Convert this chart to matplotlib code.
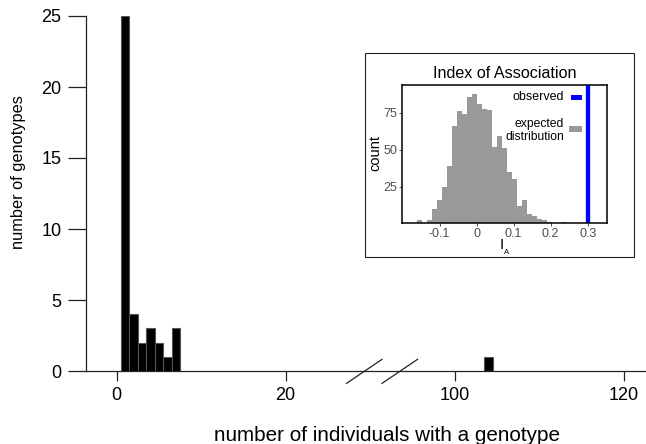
import matplotlib
matplotlib.use("Agg")
import matplotlib.pyplot as plt
from matplotlib.patches import Rectangle
from matplotlib.lines import Line2D

plt.rcParams['font.family'] = ['Liberation Sans', 'DejaVu Sans']

# ---------------- data ----------------
genotype_sizes = [1, 2, 3, 4, 5, 6, 7, 104]          # individuals per genotype
genotype_counts = [25, 4, 2, 3, 2, 1, 3, 1]           # number of genotypes
x_tick_values = [0, 20, 100, 120]
y_tick_values = [0, 5, 10, 15, 20, 25]

# broken axis: values at/above BREAK_AT are shifted left by GAP
BREAK_AT = 60
GAP = 60

# inset: null distribution of Index of Association (histogram)
ia_bin_width = 0.0135
ia_first_bin = -12                                    # index of first bin edge (x bin_width)
ia_counts = [2, 0, 2, 10, 16, 25, 39, 66, 76, 74, 86, 88, 81, 78, 77,
             52, 59, 51, 35, 30, 12, 16, 6, 5, 3, 2, 1, 0, 0, 1]
ia_observed = 0.30
ia_x_ticks = [-0.1, 0, 0.1, 0.2, 0.3]
ia_x_labels = ["-0.1", "0", "0.1", "0.2", "0.3"]
ia_y_ticks = [25, 50, 75]

# ---------------- figure ----------------
W, H = 646, 444
fig = plt.figure(figsize=(W / 100, H / 100), dpi=100)


def fx(px):
    return px / W


def fy(py):
    return 1 - py / H


# main axes
ax = fig.add_axes([fx(86), fy(371), fx(646 - 86), (371 - 16) / H])
ax.set_facecolor('none')
ax.set_zorder(0)
disp = lambda v: v if v < BREAK_AT else v - GAP
ax.bar([disp(v) for v in genotype_sizes], genotype_counts, width=1.0,
       color='black', edgecolor='#555555', linewidth=0.8, zorder=3)
ax.set_xlim(-3.63, 62.64)
ax.set_ylim(0, 25)
for s in ('top', 'right'):
    ax.spines[s].set_visible(False)
for s in ('left', 'bottom'):
    ax.spines[s].set_linewidth(0.9)
    ax.spines[s].set_color('#222222')
ax.set_xticks([disp(v) for v in x_tick_values])
ax.set_xticklabels([str(v) for v in x_tick_values])
ax.set_yticks(y_tick_values)
ax.set_yticklabels([str(v) for v in y_tick_values])
ax.tick_params(axis='y', length=13, width=0.9, pad=4.7, labelsize=13, color='#222222')
ax.tick_params(axis='x', length=7.2, width=0.9, pad=4.0, labelsize=13, color='#222222')

# break marks on the x axis
brk = 31.4
for off in (-2.1, 2.1):
    ax.add_line(Line2D([brk + off - 2.1, brk + off + 2.1], [-0.87, 0.82],
                       color='#222222', linewidth=0.9, clip_on=False))

fig.text(fx(387), fy(440.7), "number of individuals with a genotype",
         ha='center', va='baseline', fontsize=14.9)
fig.text(fx(19), fy(172), "number of genotypes", rotation=90,
         ha='center', va='center', fontsize=11.8)

# inset frame
fig.patches.append(Rectangle((fx(365), fy(256.7)), fx(634 - 365), (256.7 - 53.3) / H,
                             transform=fig.transFigure, facecolor='white',
                             edgecolor='#222222', linewidth=0.8, zorder=1))

# inset axes
axi = fig.add_axes([fx(402.3), fy(223.3), fx(607.3 - 402.3), (223.3 - 85) / H])
axi.set_zorder(2)
edges = [(ia_first_bin + i) * ia_bin_width for i in range(len(ia_counts) + 1)]
axi.bar(edges[:-1], ia_counts, width=ia_bin_width, align='edge',
        color='#999999', linewidth=0)
axi.axvline(ia_observed, color='#0000FF', linewidth=3.1)
axi.set_xlim(-0.201, 0.353)
axi.set_ylim(0, 94)
axi.set_xticks(ia_x_ticks)
axi.set_xticklabels(ia_x_labels)
axi.set_yticks(ia_y_ticks)
axi.tick_params(length=2.2, width=0.7, pad=1.5, labelsize=9, colors='#4d4d4d')
for s in axi.spines.values():
    s.set_linewidth(1.1)
    s.set_color('black')
axi.set_title("Index of Association", fontsize=11.6, pad=5)
fig.text(fx(375.5), fy(153), "count", rotation=90, ha='center', va='center',
         fontsize=10.5, zorder=4)
fig.text(fx(500), fy(249.3), "I", ha='left', va='baseline', fontsize=11, zorder=4)
fig.text(fx(504), fy(253.7), "A", ha='left', va='baseline', fontsize=5.5, zorder=4)

# legend (manual, right-aligned text)
fig.text(fx(564), fy(97.5), "observed", ha='right', va='center', fontsize=9, zorder=4)
fig.text(fx(564), fy(130.5), "expected\ndistribution", ha='right', va='center',
         fontsize=8.7, multialignment='right', linespacing=1.2, zorder=4)
fig.patches.append(Rectangle((fx(570.7), fy(100.5)), fx(11), 5.5 / H,
                             transform=fig.transFigure, facecolor='#0000FF',
                             linewidth=0, zorder=5))
fig.patches.append(Rectangle((fx(568.5), fy(132)), fx(13), 5.5 / H,
                             transform=fig.transFigure, facecolor='#999999',
                             linewidth=0, zorder=5))

fig.savefig("out.png", dpi=100)
